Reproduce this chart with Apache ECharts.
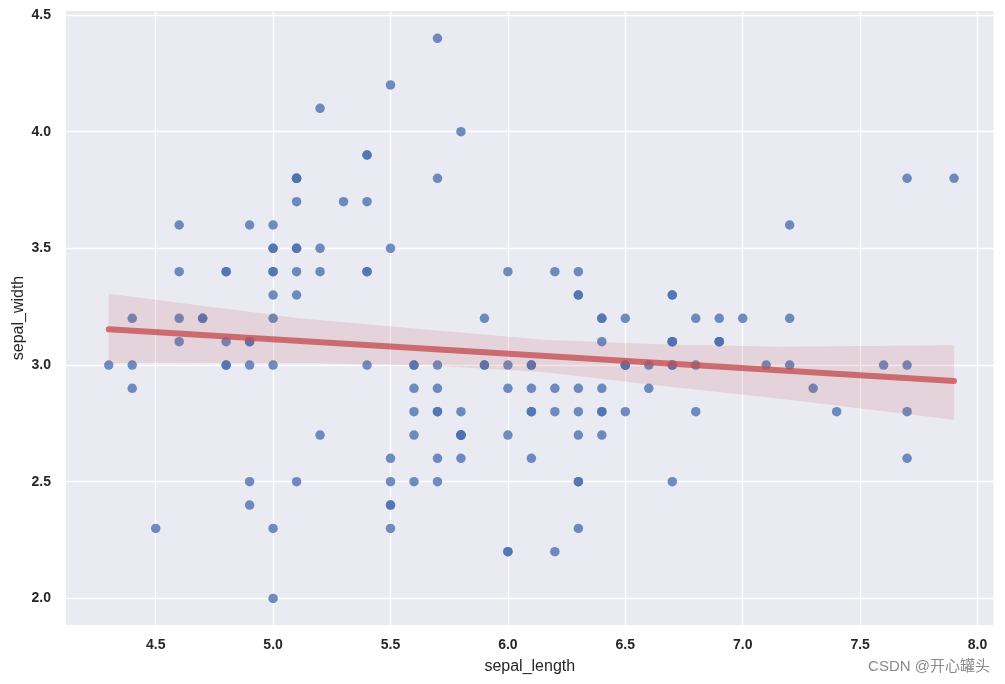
<!DOCTYPE html>
<html><head><meta charset="utf-8">
<script src="https://cdn.jsdelivr.net/npm/echarts@6/dist/echarts.min.js"></script>
<style>html,body{margin:0;padding:0;background:#fff}#c{width:1005px;height:684px}</style>
</head><body><div id="c"></div>
<script>
const sepalLength = [5.1,4.9,4.7,4.6,5.0,5.4,4.6,5.0,4.4,4.9,5.4,4.8,4.8,4.3,5.8,5.7,5.4,5.1,5.7,5.1,5.4,5.1,4.6,5.1,4.8,5.0,5.0,5.2,5.2,4.7,4.8,5.4,5.2,5.5,4.9,5.0,5.5,4.9,4.4,5.1,5.0,4.5,4.4,5.0,5.1,4.8,5.1,4.6,5.3,5.0,
7.0,6.4,6.9,5.5,6.5,5.7,6.3,4.9,6.6,5.2,5.0,5.9,6.0,6.1,5.6,6.7,5.6,5.8,6.2,5.6,5.9,6.1,6.3,6.1,6.4,6.6,6.8,6.7,6.0,5.7,5.5,5.5,5.8,6.0,5.4,6.0,6.7,6.3,5.6,5.5,5.5,6.1,5.8,5.0,5.6,5.7,5.7,6.2,5.1,5.7,
6.3,5.8,7.1,6.3,6.5,7.6,4.9,7.3,6.7,7.2,6.5,6.4,6.8,5.7,5.8,6.4,6.5,7.7,7.7,6.0,6.9,5.6,7.7,6.3,6.7,7.2,6.2,6.1,6.4,7.2,7.4,7.9,6.4,6.3,6.1,7.7,6.3,6.4,6.0,6.9,6.7,6.9,5.8,6.8,6.7,6.7,6.3,6.5,6.2,5.9];
const sepalWidth = [3.5,3.0,3.2,3.1,3.6,3.9,3.4,3.4,2.9,3.1,3.7,3.4,3.0,3.0,4.0,4.4,3.9,3.5,3.8,3.8,3.4,3.7,3.6,3.3,3.4,3.0,3.4,3.5,3.4,3.2,3.1,3.4,4.1,4.2,3.1,3.2,3.5,3.6,3.0,3.4,3.5,2.3,3.2,3.5,3.8,3.0,3.8,3.2,3.7,3.3,
3.2,3.2,3.1,2.3,2.8,2.8,3.3,2.4,2.9,2.7,2.0,3.0,2.2,2.9,2.9,3.1,3.0,2.7,2.2,2.5,3.2,2.8,2.5,2.8,2.9,3.0,2.8,3.0,2.9,2.6,2.4,2.4,2.7,2.7,3.0,3.4,3.1,2.3,3.0,2.5,2.6,3.0,2.6,2.3,2.7,3.0,2.9,2.9,2.5,2.8,
3.3,2.7,3.0,2.9,3.0,3.0,2.5,2.9,2.5,3.6,3.2,2.7,3.0,2.5,2.8,3.2,3.0,3.8,2.6,2.2,3.2,2.8,2.8,2.7,3.3,3.2,2.8,3.0,2.8,3.0,2.8,3.8,2.8,2.8,2.6,3.0,3.4,3.1,3.0,3.1,3.1,3.1,2.7,3.2,3.3,3.0,2.5,3.0,3.4,3.0];
const fitX = [4.3, 7.9];
const fitY = [3.153, 2.932];
const bandX = [4.3, 4.5, 5.12, 5.65, 6.15, 6.67, 7.16, 7.9];
const bandUpper = [3.305, 3.28, 3.199, 3.152, 3.108, 3.088, 3.078, 3.085];
const bandLower = [3.008, 3.010, 3.009, 2.999, 2.970, 2.909, 2.856, 2.766];
const xTicks = [4.5, 5.0, 5.5, 6.0, 6.5, 7.0, 7.5, 8.0];
const yTicks = [2.0, 2.5, 3.0, 3.5, 4.0, 4.5];

const font = '"Liberation Sans", Arial, sans-serif';
const chart = echarts.init(document.getElementById('c'), null, {renderer: 'canvas'});
const bandData = bandX.map((x, i) => [x, bandLower[i], bandUpper[i]]);
const axisCommon = (ticks, margin) => ({
  axisLine: {show: false},
  axisTick: {show: false, customValues: ticks},
  axisLabel: {customValues: ticks, margin: margin, color: '#262626', fontFamily: font, fontWeight: 'bold', fontSize: 14, formatter: v => v.toFixed(1)},
  splitLine: {show: true, lineStyle: {color: '#ffffff', width: 1.3}},
  nameTextStyle: {color: '#262626', fontFamily: font, fontSize: 16}
});
chart.setOption({
  backgroundColor: '#ffffff',
  animation: false,
  grid: {left: 66, right: 11.5, top: 11, bottom: 59, containLabel: false, outerBoundsMode: 'none', show: true, backgroundColor: '#EAEAF2', borderWidth: 0},
  graphic: [{type: 'text', right: 15, bottom: 10, style: {text: 'CSDN @开心罐头', fill: '#8a8a8a', font: '15px "Liberation Sans", "Noto Sans CJK SC", sans-serif'}}],
  xAxis: Object.assign(axisCommon(xTicks, 13), {type: 'value', min: 4.118, max: 8.068, name: 'sepal_length', nameLocation: 'middle', nameGap: 34}),
  yAxis: Object.assign(axisCommon(yTicks, 15), {type: 'value', min: 1.886, max: 4.517, name: 'sepal_width', nameLocation: 'middle', nameGap: 39, nameMoveOverlap: false}),
  series: [
    {type: 'scatter', z: 2, symbolSize: 9.5, data: sepalLength.map((x, i) => [x, sepalWidth[i]]),
     itemStyle: {color: '#4C72B0', opacity: 0.8}},
    {type: 'custom', z: 3, data: bandData, silent: true,
     renderItem: function (params, api) {
       if (params.dataIndex !== 0) return null;
       const pts = [];
       bandData.forEach(d => pts.push(api.coord([d[0], d[2]])));
       for (let i = bandData.length - 1; i >= 0; i--) pts.push(api.coord([bandData[i][0], bandData[i][1]]));
       return {type: 'polygon', shape: {points: pts}, style: {fill: 'rgba(196,78,82,0.15)'}};
     }},
    {type: 'line', z: 4, symbol: 'none', data: fitX.map((x, i) => [x, fitY[i]]),
     lineStyle: {color: '#c44e52', opacity: 0.78, width: 6, cap: 'round'}}
  ]
});
</script></body></html>
